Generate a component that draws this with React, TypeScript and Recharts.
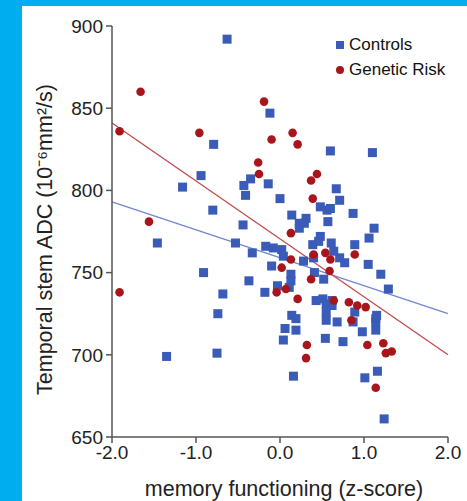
import React from "react";
import {
  ScatterChart,
  Scatter,
  XAxis,
  YAxis,
  ReferenceLine,
} from "recharts";

// memory functioning (z) vs temporal stem ADC
const controls: [number, number][] = [
  [-0.63, 892], [-0.12, 847], [-0.79, 828], [-0.94, 809], [-0.35, 807],
  [-0.43, 803], [-0.14, 804], [-1.16, 802], [-0.41, 797], [0.0, 795],
  [-0.8, 788], [-0.44, 779], [0.6, 824], [1.1, 823], [0.67, 801],
  [0.71, 794], [0.48, 790], [0.6, 789], [0.56, 788], [0.87, 786],
  [0.14, 785], [0.31, 783], [0.57, 781], [0.23, 780], [0.29, 780],
  [1.12, 777], [0.23, 777], [1.06, 771], [0.48, 772], [0.46, 769],
  [0.39, 767], [0.61, 768], [0.89, 767], [-0.08, 765], [0.02, 764],
  [0.64, 763], [0.04, 760], [0.4, 759], [0.71, 759], [0.28, 757],
  [0.77, 756], [-0.1, 754], [1.05, 755], [0.41, 750], [0.13, 749],
  [0.52, 746], [1.2, 749], [0.13, 745], [-0.03, 742], [0.11, 741],
  [1.29, 740], [0.43, 733], [0.51, 734], [0.62, 733], [0.55, 731],
  [0.62, 730], [0.89, 726], [0.55, 726], [1.15, 724], [0.14, 724],
  [0.19, 722], [1.14, 722], [0.55, 721], [0.68, 720], [0.87, 720],
  [1.14, 720], [0.06, 716], [0.19, 715], [0.98, 714], [1.14, 715],
  [0.04, 709], [0.54, 710], [0.75, 708], [0.16, 687], [1.01, 686],
  [1.16, 690], [1.24, 661], [-1.46, 768], [-0.53, 768], [-0.17, 766],
  [-0.33, 762], [-0.91, 750], [-0.37, 745], [-0.68, 737], [-0.18, 738],
  [-0.74, 725], [-1.35, 699], [-0.75, 701],
];

const geneticRisk: [number, number][] = [
  [-1.66, 860], [-0.19, 854], [-1.91, 836], [-0.96, 835], [-0.1, 831],
  [-0.26, 817], [-0.25, 810], [-1.56, 781], [0.15, 835], [0.21, 828],
  [0.44, 810], [0.37, 806], [0.39, 795], [0.13, 774], [0.4, 761],
  [0.54, 762], [0.89, 761], [0.6, 758], [0.13, 758], [0.02, 753],
  [0.59, 751], [0.37, 746], [0.07, 740], [-0.04, 738], [-1.91, 738],
  [0.21, 734], [0.64, 733], [0.82, 732], [0.92, 730], [1.02, 729],
  [0.85, 721], [0.32, 706], [1.04, 706], [1.23, 707], [1.26, 701],
  [1.33, 702], [0.31, 698], [1.14, 680],
];

// fitted lines (endpoints at x = -2 and x = 2)
const controlsFit = [
  { x: -2, y: 793 },
  { x: 2, y: 725 },
];
const riskFit = [
  { x: -2, y: 841 },
  { x: 2, y: 700 },
];

const xTicks = [-2, -1, 0, 1, 2];
const yTicks = [650, 700, 750, 800, 850, 900];

const BLUE = "#3a5cb8";
const RED = "#a8161c";
const FONT = "'Liberation Sans', Arial, sans-serif";

const toRows = (pts: [number, number][]) => pts.map(([x, y]) => ({ x, y }));

const Square = (props: any) => (
  <rect x={props.cx - 4.5} y={props.cy - 4.5} width={9} height={9} fill={BLUE} />
);
const Dot = (props: any) => <circle cx={props.cx} cy={props.cy} r={4.3} fill={RED} />;

const LegendBox = () => (
  <div
    style={{
      position: "absolute",
      left: 314,
      top: 26,
      fontFamily: FONT,
      fontSize: 17,
      color: "#111",
      lineHeight: "25px",
    }}
  >
    <div style={{ display: "flex", alignItems: "center" }}>
      <svg width={13} height={10}>
        <rect x={0} y={1} width={8} height={8} fill={BLUE} />
      </svg>
      <span>Controls</span>
    </div>
    <div style={{ display: "flex", alignItems: "center" }}>
      <svg width={13} height={10}>
        <circle cx={4} cy={5} r={4} fill={RED} />
      </svg>
      <span>Genetic Risk</span>
    </div>
  </div>
);

export default function App() {
  return (
    <div
      style={{
        position: "absolute",
        left: 0,
        top: 0,
        width: 467,
        height: 501,
        background: "#00aeef",
      }}
    >
      <div
        style={{
          position: "absolute",
          left: 22,
          top: 6,
          width: 445,
          height: 495,
          background: "#fff",
        }}
      >
        <ScatterChart
          width={445}
          height={495}
          margin={{ top: 20, right: 19, bottom: 0, left: 0 }}
          style={{ fontFamily: FONT }}
        >
          <XAxis
            type="number"
            dataKey="x"
            domain={[-2, 2]}
            ticks={xTicks}
            tickFormatter={(v: number) => v.toFixed(1)}
            height={64}
            stroke="#555"
            strokeWidth={1.5}
            tickSize={6}
            tickMargin={3}
            tick={{ fill: "#222", fontSize: 19 }}
            allowDataOverflow
            label={{
              value: "memory functioning (z-score)",
              position: "insideBottom",
              offset: 5,
              fill: "#222",
              fontSize: 21.5,
              dx: 4,
            }}
          />
          <YAxis
            type="number"
            dataKey="y"
            domain={[650, 900]}
            ticks={yTicks}
            width={90}
            stroke="#555"
            strokeWidth={1.5}
            tickSize={6}
            tickMargin={3}
            tick={{ fill: "#222", fontSize: 19 }}
            allowDataOverflow
            label={{
              value: "Temporal stem ADC (10⁻⁶mm²/s)",
              angle: -90,
              position: "insideLeft",
              offset: 22,
              fill: "#222",
              fontSize: 21.5,
              dy: 8,
              style: { textAnchor: "middle" },
            }}
          />
          <ReferenceLine
            segment={controlsFit}
            stroke="#6f87cf"
            strokeWidth={1.3}
            ifOverflow="visible"
          />
          <ReferenceLine
            segment={riskFit}
            stroke="#c24a4a"
            strokeWidth={1.3}
            ifOverflow="visible"
          />
          <Scatter
            name="Controls"
            data={toRows(controls)}
            shape={Square}
            isAnimationActive={false}
          />
          <Scatter
            name="Genetic Risk"
            data={toRows(geneticRisk)}
            shape={Dot}
            isAnimationActive={false}
          />
        </ScatterChart>
        <LegendBox />
      </div>
    </div>
  );
}
